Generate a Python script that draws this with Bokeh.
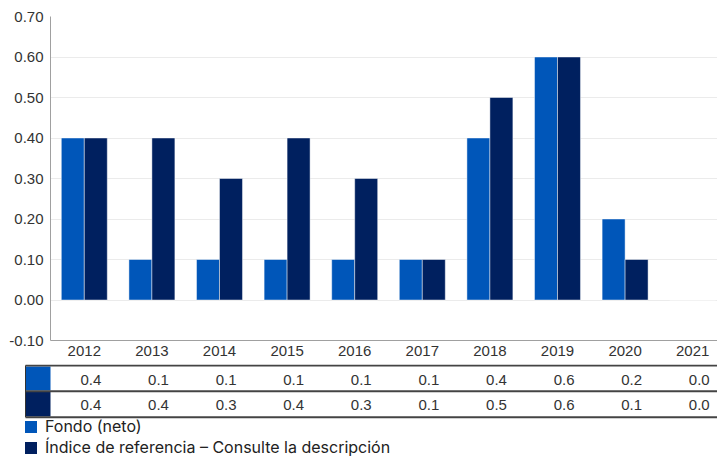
from bokeh.plotting import figure
from bokeh.models import Range1d, FixedTicker, NumeralTickFormatter, ColumnDataSource, Legend, LegendItem
from bokeh.layouts import column
from bokeh.transform import dodge
from bokeh.embed import file_html
from bokeh.resources import INLINE
from bokeh.core.properties import value

# ---- data ----
years = ["2012", "2013", "2014", "2015", "2016", "2017", "2018", "2019", "2020", "2021"]
fund = [0.4, 0.1, 0.1, 0.1, 0.1, 0.1, 0.4, 0.6, 0.2, 0.0]
index = [0.4, 0.4, 0.3, 0.4, 0.3, 0.1, 0.5, 0.6, 0.1, 0.0]
series_names = ["Fondo (neto)", "Índice de referencia – Consulte la descripción"]
y_ticks = [-0.1, 0.0, 0.1, 0.2, 0.3, 0.4, 0.5, 0.6, 0.7]

FUND_C = "#0056B9"
IDX_C = "#00205F"
AX_FONT = "Liberation Sans"
TXT_C = "#333333"

W = 717
PX = 67.6  # pixels per category
LEFT = 50
H1 = 364
H2 = 96

xs = list(range(len(years)))
src = ColumnDataSource(dict(x=xs, fund=fund, index=index,
                            fund_txt=[f"{v:.1f}" for v in fund],
                            idx_txt=[f"{v:.1f}" for v in index]))

p = figure(width=W, height=H1,
           x_range=Range1d(-0.5, -0.5 + (W - LEFT) / PX),
           y_range=Range1d(-0.1, 0.7),
           output_backend="svg", toolbar_location=None,
           min_border_left=LEFT, min_border_right=0, min_border_top=16, min_border_bottom=24)
p.outline_line_color = None

p.vbar(x=dodge("x", -0.17, range=p.x_range), top="fund", width=0.34, source=src,
       fill_color=FUND_C, line_color="white", line_alpha=0.45, line_width=1)
p.vbar(x=dodge("x", 0.17, range=p.x_range), top="index", width=0.34, source=src,
       fill_color=IDX_C, line_color="white", line_alpha=0.45, line_width=1)

p.xgrid.grid_line_color = None
p.ygrid.grid_line_color = "#ebebeb"
p.ygrid.ticker = FixedTicker(ticks=y_ticks)

p.yaxis.ticker = FixedTicker(ticks=y_ticks)
p.yaxis.formatter = NumeralTickFormatter(format="0.00")
p.xaxis.ticker = FixedTicker(ticks=xs)
p.xaxis.major_label_overrides = {i: y for i, y in enumerate(years)}

for ax in (p.xaxis, p.yaxis):
    ax.major_tick_line_color = None
    ax.minor_tick_line_color = None
    ax.major_tick_out = 0
    ax.major_tick_in = 0
    ax.minor_tick_out = 0
    ax.axis_line_color = "#a0a0a0"
    ax.major_label_text_font = AX_FONT
    ax.major_label_text_font_size = "15px"
    ax.major_label_text_color = TXT_C
p.yaxis.major_label_standoff = 7
p.xaxis.major_label_standoff = 5

# ---- table + legend ----
c0 = LEFT + 0.5 * PX
t = figure(width=W, height=H2,
           x_range=Range1d(-c0 / PX, (W - c0) / PX),
           y_range=Range1d(H2, 0),
           output_backend="svg", toolbar_location=None,
           x_axis_type=None, y_axis_type=None, min_border=0,
           min_border_left=0, min_border_right=0, min_border_top=0, min_border_bottom=0)
t.outline_line_color = None
t.xgrid.visible = False
t.ygrid.visible = False
p.frame_align = False
t.frame_align = False

sw_left = -0.5 - 25 / PX
r1 = t.quad(left=[sw_left], right=[-0.5], top=[2], bottom=[26],
            fill_color=FUND_C, line_color=None)
r2 = t.quad(left=[sw_left], right=[-0.5], top=[27.5], bottom=[52],
            fill_color=IDX_C, line_color=None)
t.segment(x0=[sw_left] * 3, x1=[20] * 3, y0=[1, 26.7, 52.7], y1=[1, 26.7, 52.7],
          line_color="#444444", line_width=2)
t.segment(x0=[sw_left], x1=[sw_left], y0=[1], y1=[52.7], line_color="#333333", line_width=1)

t.text(x="x", y=15, text="fund_txt", source=src, x_offset=17, text_align="right",
       text_baseline="middle", text_font=value(AX_FONT), text_font_size="15px", text_color=TXT_C)
t.text(x="x", y=40.5, text="idx_txt", source=src, x_offset=17, text_align="right",
       text_baseline="middle", text_font=value(AX_FONT), text_font_size="15px", text_color=TXT_C)

legend = Legend(items=[LegendItem(label=series_names[0], renderers=[r1]),
                       LegendItem(label=series_names[1], renderers=[r2])],
                location=(23, 3), orientation="vertical",
                glyph_width=15, glyph_height=15, label_height=15, spacing=1,
                padding=0, margin=0, label_standoff=7,
                label_text_font="Inter", label_text_font_size="16px",
                label_text_color="#222222", border_line_color=None, background_fill_alpha=0)
t.add_layout(legend)

layout = column(p, t)
open("out.html", "w").write(file_html(layout, INLINE))
